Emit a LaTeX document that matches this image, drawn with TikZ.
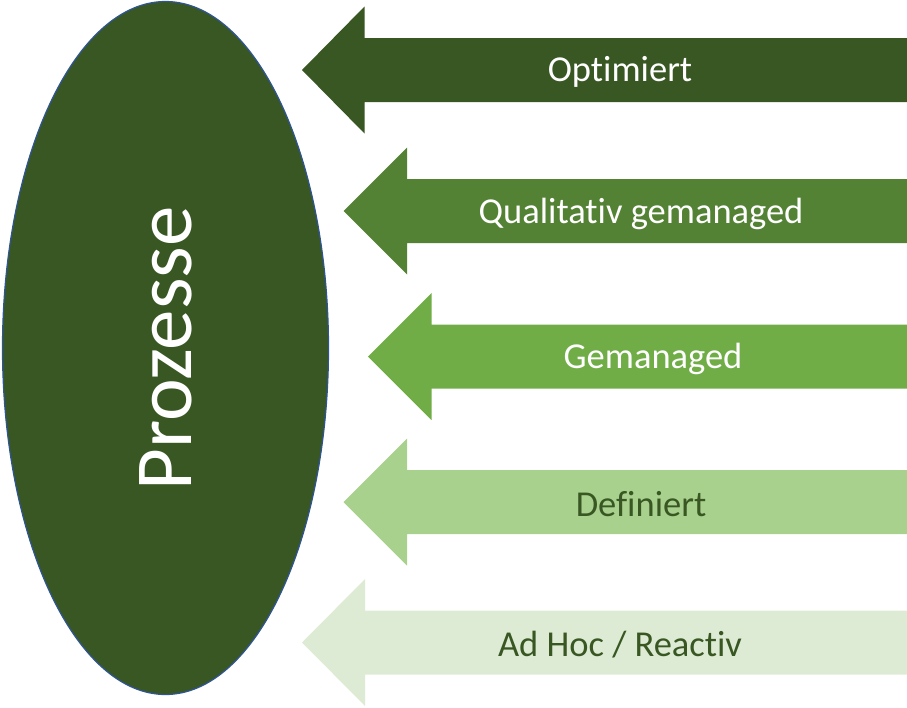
\documentclass[tikz,border=0pt]{standalone}
\usepackage{fontspec}
\setmainfont[Ligatures={NoCommon}]{Carlito}
\usetikzlibrary{shapes.geometric}
\definecolor{g1}{HTML}{385723}
\definecolor{g2}{HTML}{548235}
\definecolor{g3}{HTML}{70AD47}
\definecolor{g4}{HTML}{A9D18E}
\definecolor{g5}{HTML}{DEEBD4}
\definecolor{edgeblue}{HTML}{2F5597}
\tikzset{
  lbl/.style={font=\fontsize{36.5}{40}\selectfont, inner sep=0pt, anchor=center},
}
% #1 tip x, #2 center y (image coords), #3 base x, #4 colour
\newcommand{\leftarrowshape}[4]{%
  \fill[#4] (#1,#2) -- (#3,#2-63.5) -- (#3,#2-32) -- (907,#2-32) -- (907,#2+32) -- (#3,#2+32) -- (#3,#2+63.5) -- cycle;}
\begin{document}
\begin{tikzpicture}[x=1pt,y=-1pt]
\useasboundingbox (0,0) rectangle (907,707);
\node[ellipse, draw=edgeblue, line width=1.2pt, fill=g1, minimum width=326pt, minimum height=693pt, inner sep=0pt] (proc) at (165.5,348) {};
\node[text=white, rotate=90, inner sep=0pt, font=\fontsize{81}{90}\selectfont] (proclabel) at (166,348.5) {Prozesse};
\leftarrowshape{302}{70}{364.5}{g1}
\leftarrowshape{343.5}{211}{407}{g2}
\leftarrowshape{368}{356.5}{431.5}{g3}
\leftarrowshape{343.5}{502}{407}{g4}
\leftarrowshape{302}{642.5}{365}{g5}
\node[lbl, text=white] (t1) at (620,72) {Optimiert};
\node[lbl, text=white] (t2) at (641,214) {Qualitativ gemanaged};
\node[lbl, text=white] (t3) at (653,359) {Gemanaged};
\node[lbl, text=g1] (t4) at (641,504) {Definiert};
\node[lbl, text=g1] (t5) at (620,645) {Ad Hoc / Reactiv};
\end{tikzpicture}
\end{document}
